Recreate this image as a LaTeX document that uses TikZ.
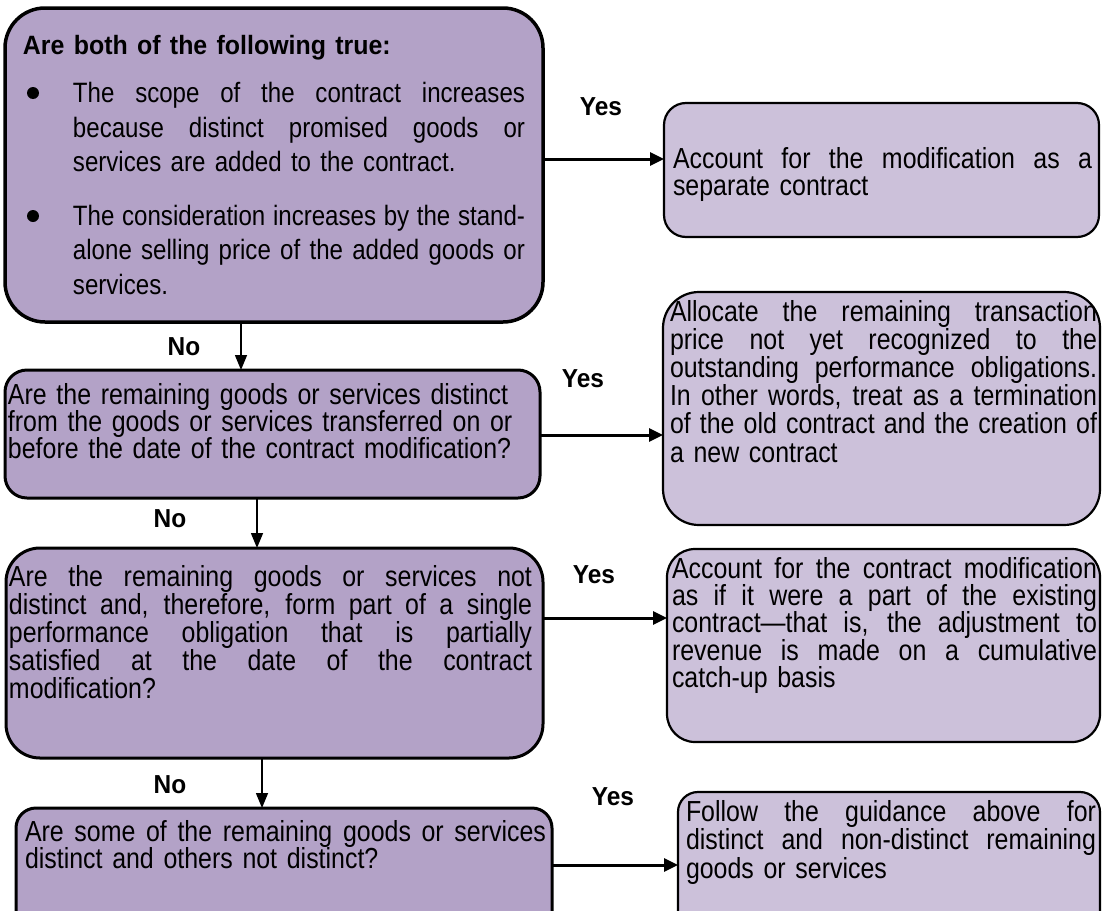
\documentclass[tikz,border=0pt]{standalone}
\usepackage{fontspec}
\setmainfont[FakeStretch=0.86]{Liberation Sans}
\newfontfamily\headfont[FakeStretch=0.94]{Liberation Sans}
\usetikzlibrary{arrows.meta}
\definecolor{qfill}{HTML}{B3A2C7}
\definecolor{afill}{HTML}{CCC1DA}
% a line set to a fixed width, its spaces stretched evenly (justified line)
\newcommand\jl[2]{\leavevmode\hbox to #1{\spaceskip=\fontdimen2\font plus 1fil\relax
  \xspaceskip=\spaceskip #2}}

\begin{document}
\begin{tikzpicture}[x=1pt,y=-1pt,
  qbox/.style={draw=black, fill=qfill, line width=3pt, rounded corners=#1,
    anchor=north west, inner sep=0pt, outer sep=0pt},
  qbox/.default=24pt,
  abox/.style={draw=black, fill=afill, line width=2.2pt, rounded corners=#1,
    anchor=north west, inner sep=0pt, outer sep=0pt},
  abox/.default=22pt,
  txt/.style={anchor=base west, inner sep=0pt, outer sep=0pt,
    font=\fontsize{29}{27.4}\selectfont},
  lbl/.style={anchor=base, inner sep=0pt, font=\fontsize{26}{27}\headfont\bfseries},
  harrow/.style={line width=3pt, -{Triangle[length=14pt,width=13pt]}},
  varrow/.style={line width=1.5pt, -{Triangle[length=15pt,width=12pt]}},
]
\useasboundingbox (0,0) rectangle (1102,910);
\clip (0,0) rectangle (1102,910);

% ---- question boxes (left column) ----
\node[qbox=40pt, line width=3.5pt, minimum width=538pt, minimum height=314pt] (q1) at (5,8) {};
\node[qbox=22pt, minimum width=535pt, minimum height=128pt] (q2) at (5,370) {};
\node[qbox=34pt, minimum width=537pt, minimum height=210pt] (q3) at (6,548) {};
\node[qbox=20pt, minimum width=536pt, minimum height=140pt] (q4) at (16,808) {};

% ---- outcome boxes (right column) ----
\node[abox=22pt, minimum width=435pt, minimum height=134pt] (r1) at (664,103) {};
\node[abox=36pt, minimum width=437pt, minimum height=233pt] (r2) at (663,292) {};
\node[abox=28pt, minimum width=433pt, minimum height=193pt] (r3) at (667,549) {};
\node[abox=20pt, minimum width=422pt, minimum height=150pt] (r4) at (678,792) {};

% ---- texts ----
\node[txt, text width=515pt, font=\fontsize{28}{34.5}\selectfont] (t1) at (23,54)
 {{\fontsize{26.5}{30}\headfont\bfseries Are both of the following true:}\\[14pt]
  \hspace*{50pt}\jl{452pt}{The scope of the contract increases}\\
  \hspace*{50pt}\jl{452pt}{because distinct promised goods or}\\
  \hspace*{50pt}services are added to the contract.\\[19pt]
  \hspace*{50pt}\jl{452pt}{The consideration increases by the stand-}\\
  \hspace*{50pt}\jl{452pt}{alone selling price of the added goods or}\\
  \hspace*{50pt}services.};
\fill (33,93) circle[radius=6pt];
\fill (33,216) circle[radius=6pt];

\node[txt, text width=530pt] (t2) at (8,404)
 {Are the remaining goods or services distinct\\
  from the goods or services transferred on or\\
  before the date of the contract modification?};

\node[txt, text width=525pt, font=\fontsize{29}{28.2}\selectfont] (t3) at (9,586)
 {\jl{523pt}{Are the remaining goods or services not}\\
  \jl{523pt}{distinct and, therefore, form part of a single}\\
  \jl{523pt}{performance obligation that is partially}\\
  \jl{523pt}{satisfied at the date of the contract}\\
  modification?};

\node[txt, text width=523pt] (t4) at (25,841)
 {\jl{521pt}{Are some of the remaining goods or services}\\
  distinct and others not distinct?};

\node[txt, text width=421pt] (u1) at (673,168)
 {\jl{419pt}{Account for the modification as a}\\
  separate contract};

\node[txt, text width=429pt, font=\fontsize{29}{28.2}\selectfont] (u2) at (670,321)
 {\jl{427pt}{Allocate the remaining transaction}\\
  \jl{427pt}{price not yet recognized to the}\\
  \jl{427pt}{outstanding performance obligations.}\\
  \jl{427pt}{In other words, treat as a termination}\\
  \jl{427pt}{of the old contract and the creation of}\\
  a new contract};

\node[txt, text width=427pt] (u3) at (672,578)
 {\jl{425pt}{Account for the contract modification}\\
  \jl{425pt}{as if it were a part of the existing}\\
  \jl{425pt}{contract—that is, the adjustment to}\\
  \jl{425pt}{revenue is made on a cumulative}\\
  catch-up basis};

\node[txt, text width=412pt, font=\fontsize{29}{28.5}\selectfont] (u4) at (686,821)
 {\jl{410pt}{Follow the guidance above for}\\
  \jl{410pt}{distinct and non-distinct remaining}\\
  goods or services};

% ---- branch labels ----
\node[lbl] (yes1) at (601,115) {Yes};
\node[lbl] (yes2) at (583,387) {Yes};
\node[lbl] (yes3) at (594,583) {Yes};
\node[lbl] (yes4) at (613,805) {Yes};
\node[lbl] (no1) at (184,355) {No};
\node[lbl] (no2) at (170,527) {No};
\node[lbl] (no3) at (170,793) {No};

% ---- connectors ----
\draw[harrow] (q1.east |- 0,159) -- (r1.west |- 0,159);
\draw[harrow] (q2.east |- 0,435) -- (r2.west |- 0,435);
\draw[harrow] (q3.east |- 0,618) -- (r3.west |- 0,618);
\draw[harrow] (q4.east |- 0,865) -- (r4.west |- 0,865);
\draw[varrow] (q1.south -| 241,0) -- (q2.north -| 241,0);
\draw[varrow] (q2.south -| 257,0) -- (q3.north -| 257,0);
\draw[varrow] (q3.south -| 262,0) -- (q4.north -| 262,0);
\end{tikzpicture}
\end{document}
